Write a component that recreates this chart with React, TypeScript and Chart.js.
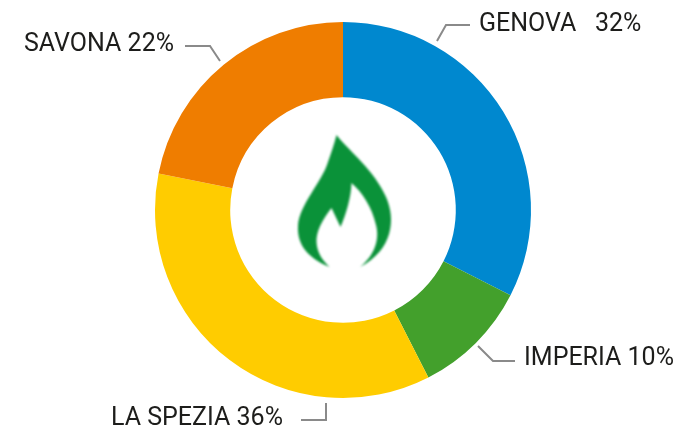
import React, { useEffect, useRef } from "react";
import { Chart, registerables } from "chart.js";

Chart.register(...registerables);

const provinces = ["GENOVA", "IMPERIA", "LA SPEZIA", "SAVONA"];
const printedShares = ["32%", "10%", "36%", "22%"];
const sliceShares = [32.5, 10, 35.6, 21.9];
const sliceColors = ["#0088CF", "#43A02C", "#FFCC00", "#EF7D00"];

const callouts = [
  { text: "GENOVA", gap: "   ", x: 479, y: 25, line: [[437, 41], [446, 25], [470, 25]] },
  { text: "IMPERIA", gap: " ", x: 524, y: 359, line: [[478, 346], [493, 361], [515, 361]] },
  { text: "LA SPEZIA", gap: " ", x: 111, y: 419, line: [[326, 403], [326, 420], [301, 420]] },
  { text: "SAVONA", gap: " ", x: 24, y: 45, line: [[220, 61], [210, 46], [185, 46]] },
];

const flamePlugin = {
  id: "flame",
  afterDatasetsDraw(chart: any) {
    const ctx = chart.ctx as CanvasRenderingContext2D;
    ctx.save();
    ctx.filter = "blur(1px)";
    ctx.fillStyle = "#0A9239";
    ctx.beginPath();
    ctx.moveTo(336.5, 135);
    ctx.bezierCurveTo(350, 152, 374, 170, 386, 197);
    ctx.bezierCurveTo(396, 219, 393, 250, 360, 267);
    ctx.bezierCurveTo(374, 256, 380, 240, 376, 225);
    ctx.bezierCurveTo(372, 207, 362, 192, 351.5, 183);
    ctx.bezierCurveTo(351, 198, 346, 214, 340.5, 227);
    ctx.lineTo(331.5, 208);
    ctx.bezierCurveTo(322, 220, 316, 232, 316.5, 242);
    ctx.bezierCurveTo(317, 252, 322, 260, 329.5, 267);
    ctx.bezierCurveTo(308, 258, 297, 245, 298, 226);
    ctx.bezierCurveTo(299, 205, 322, 182, 328, 162);
    ctx.bezierCurveTo(331, 153, 334, 145, 336.5, 135);
    ctx.closePath();
    ctx.fill();
    ctx.restore();
  },
};

const calloutPlugin = {
  id: "callouts",
  afterDraw(chart: any) {
    const ctx = chart.ctx as CanvasRenderingContext2D;
    ctx.save();
    callouts.forEach((c, i) => {
      ctx.strokeStyle = "#8A8A8A";
      ctx.lineWidth = 2;
      ctx.beginPath();
      c.line.forEach(([x, y], j) => (j ? ctx.lineTo(x, y) : ctx.moveTo(x, y)));
      ctx.stroke();
      ctx.fillStyle = "#1D1D1B";
      ctx.font = "25px Roboto";
      ctx.textAlign = "left";
      ctx.textBaseline = "middle";
      ctx.fillText(`${provinces[i]}${c.gap}${printedShares[i]}`, c.x, c.y);
    });
    ctx.restore();
  },
};

export default function App() {
  const ref = useRef<HTMLCanvasElement>(null);
  useEffect(() => {
    const chart = new Chart(ref.current!, {
      type: "doughnut",
      data: {
        labels: provinces,
        datasets: [{ data: sliceShares, backgroundColor: sliceColors, borderWidth: 0 }],
      },
      options: {
        animation: false,
        responsive: false,
        cutout: "60%",
        layout: { padding: { left: 3, right: 0, top: 22, bottom: 32 } },
        plugins: { legend: { display: false }, tooltip: { enabled: false } },
      },
      plugins: [flamePlugin, calloutPlugin],
    });
    return () => chart.destroy();
  }, []);
  return (
    <canvas
      ref={ref}
      width={683}
      height={430}
      style={{ position: "absolute", left: 0, top: 0, width: 683, height: 430, display: "block" }}
    />
  );
}
